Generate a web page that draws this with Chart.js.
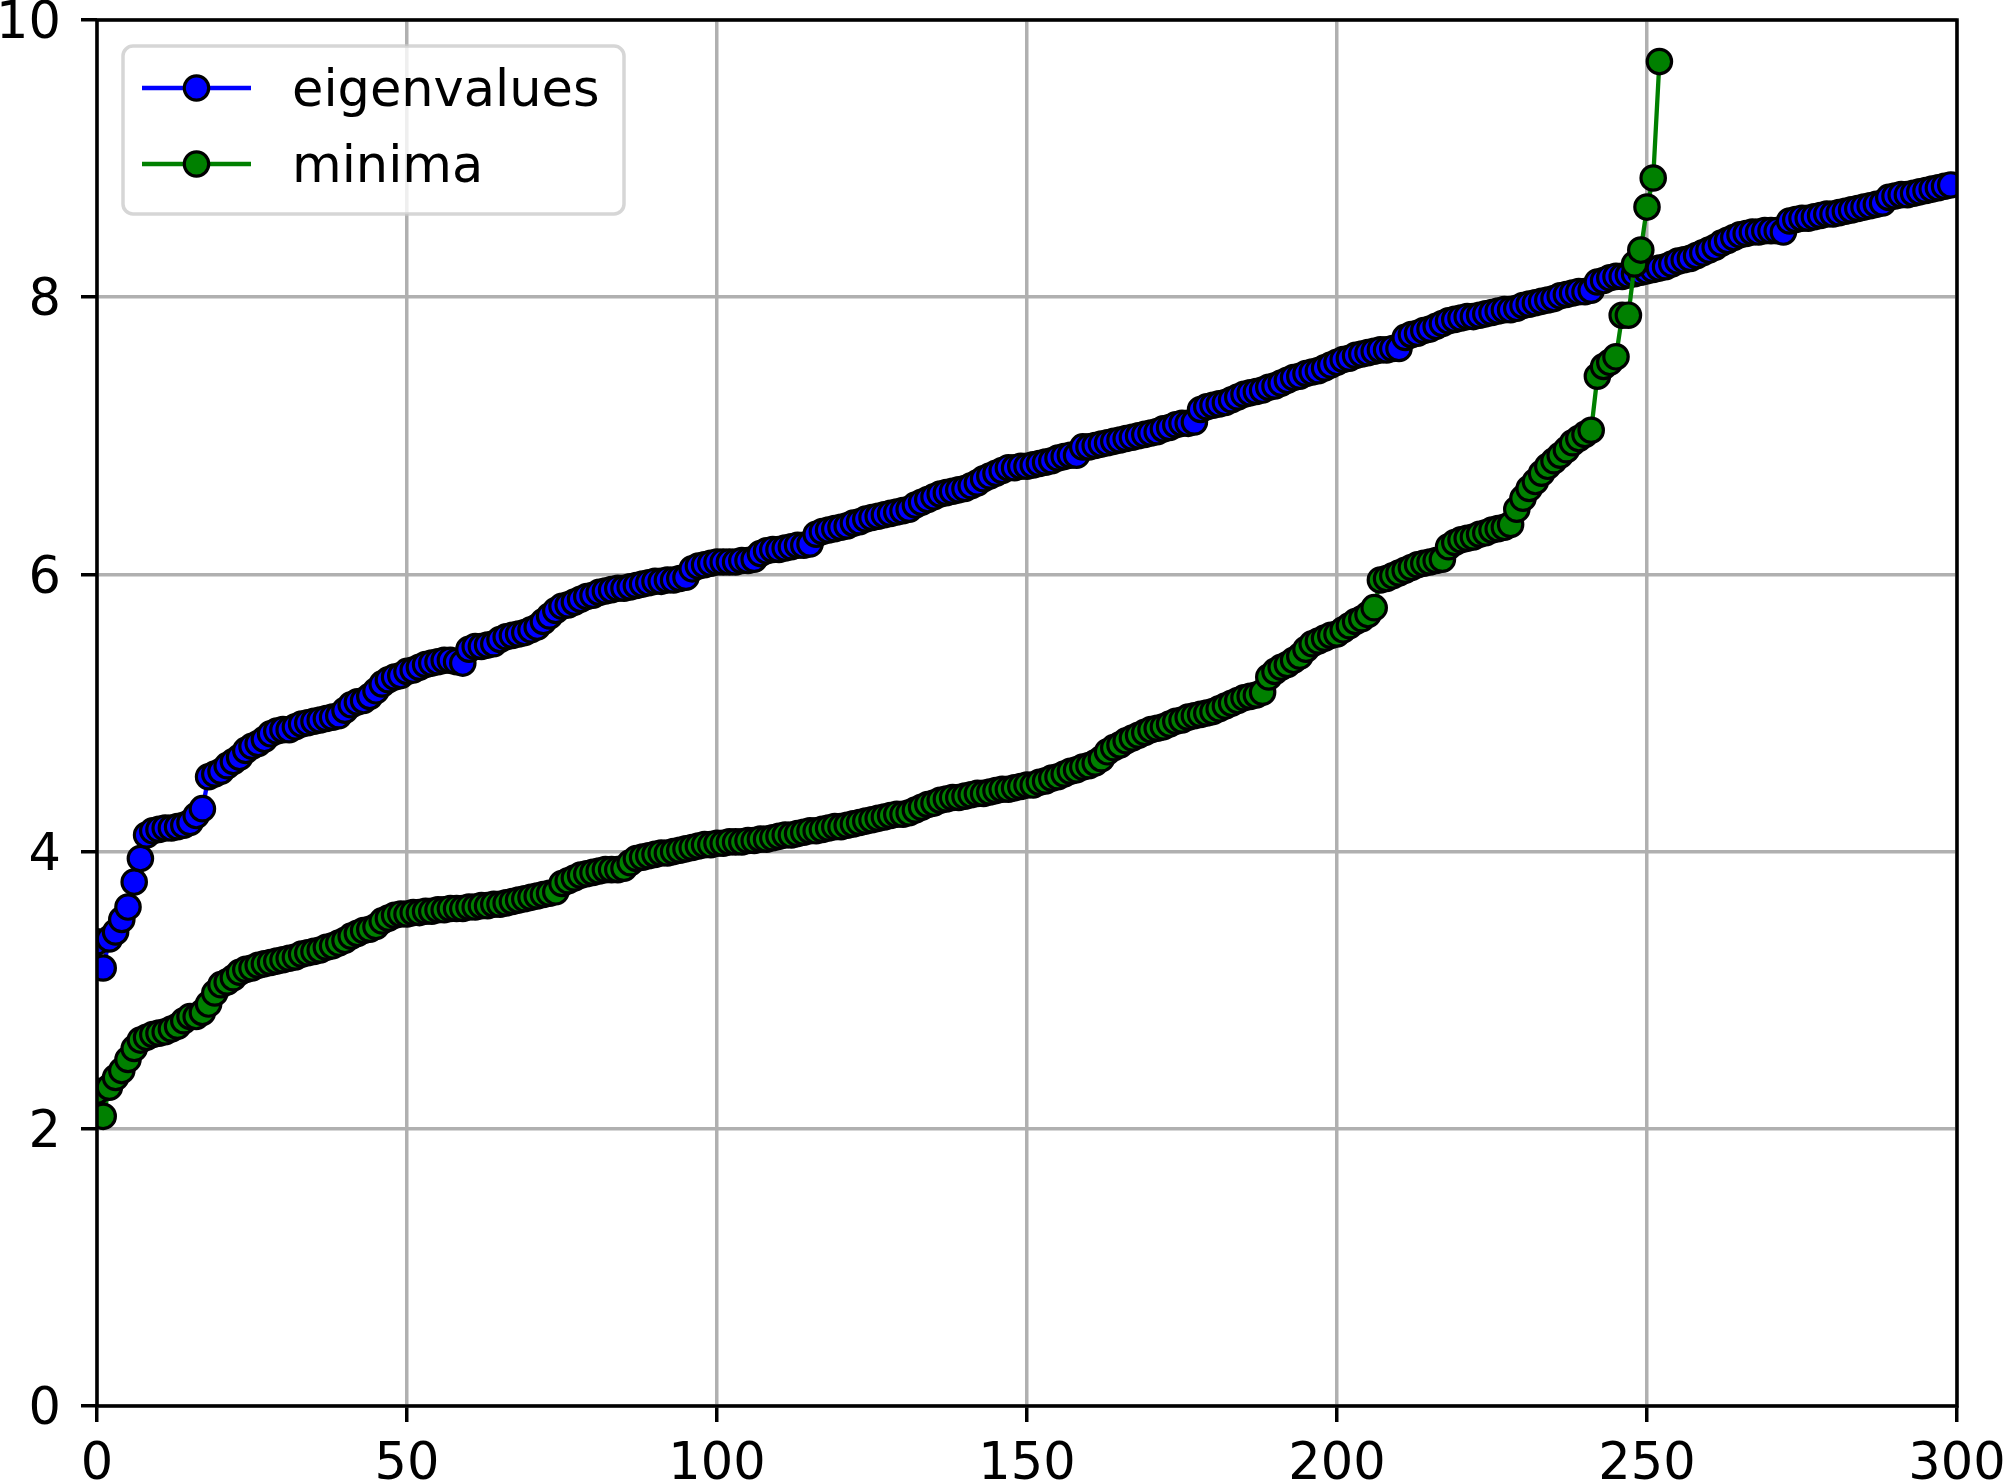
<!DOCTYPE html>
<html><head><meta charset="utf-8">
<script src="https://cdn.jsdelivr.net/npm/chart.js@4.4.0/dist/chart.umd.min.js"></script>
<style>html,body{margin:0;padding:0;background:#fff}canvas{display:block}</style>
</head><body>
<canvas id="c" width="2003" height="1482"></canvas>
<script>
const seriesLabels = ['eigenvalues', 'minima'];
const seriesColors = ['#0000ff', '#008000'];
const xTicks = [0, 50, 100, 150, 200, 250, 300];
const yTicks = [0, 2, 4, 6, 8, 10];

const eigenvalues = [
3.35,3.16,3.37,3.42,3.51,3.60,3.78,3.95,4.12,4.15,
4.16,4.17,4.17,4.18,4.19,4.21,4.26,4.31,4.54,4.56,
4.58,4.62,4.65,4.68,4.73,4.76,4.78,4.81,4.85,4.87,
4.88,4.88,4.90,4.92,4.93,4.94,4.95,4.96,4.97,4.98,
5.02,5.06,5.08,5.09,5.12,5.16,5.21,5.24,5.26,5.27,
5.30,5.31,5.33,5.35,5.36,5.37,5.38,5.38,5.37,5.36,
5.46,5.48,5.48,5.49,5.50,5.53,5.55,5.56,5.57,5.58,
5.60,5.62,5.66,5.70,5.74,5.77,5.78,5.80,5.82,5.84,
5.85,5.87,5.88,5.89,5.90,5.90,5.91,5.92,5.93,5.94,
5.95,5.95,5.96,5.96,5.97,5.98,6.04,6.06,6.07,6.08,
6.09,6.09,6.09,6.09,6.10,6.10,6.11,6.15,6.17,6.18,
6.18,6.19,6.20,6.21,6.21,6.22,6.29,6.31,6.32,6.33,
6.34,6.35,6.37,6.38,6.40,6.41,6.42,6.43,6.44,6.45,
6.46,6.47,6.50,6.52,6.54,6.56,6.58,6.59,6.60,6.61,
6.62,6.64,6.66,6.69,6.71,6.73,6.75,6.77,6.77,6.78,
6.78,6.79,6.80,6.81,6.82,6.84,6.85,6.86,6.86,6.92,
6.92,6.93,6.94,6.95,6.96,6.97,6.98,6.99,7.00,7.01,
7.02,7.03,7.05,7.06,7.08,7.09,7.09,7.10,7.19,7.21,
7.22,7.23,7.24,7.26,7.28,7.30,7.31,7.32,7.33,7.35,
7.36,7.38,7.40,7.42,7.43,7.45,7.46,7.47,7.49,7.51,
7.53,7.55,7.56,7.58,7.59,7.60,7.61,7.62,7.62,7.63,
7.63,7.71,7.73,7.74,7.76,7.77,7.79,7.81,7.83,7.84,
7.85,7.86,7.86,7.87,7.88,7.89,7.90,7.91,7.91,7.92,
7.94,7.95,7.96,7.97,7.98,7.99,8.01,8.02,8.03,8.04,
8.04,8.05,8.11,8.12,8.14,8.15,8.15,8.16,8.17,8.18,
8.19,8.20,8.21,8.22,8.24,8.26,8.27,8.28,8.30,8.32,
8.34,8.36,8.39,8.41,8.43,8.45,8.46,8.47,8.47,8.48,
8.48,8.48,8.47,8.55,8.56,8.57,8.57,8.58,8.59,8.60,
8.60,8.61,8.62,8.63,8.64,8.65,8.66,8.67,8.68,8.72,
8.73,8.74,8.74,8.75,8.76,8.77,8.78,8.79,8.80,8.81
];

const minima = [
2.27,2.09,2.30,2.37,2.42,2.50,2.58,2.64,2.66,2.68,
2.69,2.70,2.72,2.74,2.78,2.81,2.81,2.84,2.90,2.98,
3.04,3.06,3.09,3.13,3.15,3.16,3.18,3.19,3.20,3.21,
3.22,3.23,3.24,3.26,3.27,3.28,3.29,3.31,3.32,3.34,
3.36,3.39,3.41,3.43,3.44,3.46,3.50,3.52,3.54,3.55,
3.55,3.56,3.56,3.57,3.57,3.58,3.58,3.59,3.59,3.59,
3.60,3.60,3.61,3.61,3.62,3.62,3.63,3.64,3.65,3.66,
3.67,3.68,3.69,3.70,3.71,3.77,3.79,3.81,3.83,3.84,
3.85,3.86,3.87,3.87,3.87,3.88,3.92,3.95,3.96,3.97,
3.98,3.99,3.99,4.00,4.01,4.02,4.03,4.04,4.05,4.05,
4.06,4.06,4.07,4.07,4.07,4.08,4.08,4.09,4.09,4.10,
4.11,4.12,4.12,4.13,4.14,4.15,4.15,4.16,4.17,4.18,
4.18,4.19,4.20,4.21,4.22,4.23,4.24,4.25,4.26,4.27,
4.27,4.28,4.30,4.32,4.34,4.35,4.37,4.38,4.39,4.39,
4.40,4.41,4.42,4.42,4.43,4.44,4.45,4.45,4.46,4.47,
4.48,4.48,4.50,4.51,4.53,4.54,4.56,4.58,4.59,4.61,
4.62,4.64,4.67,4.72,4.75,4.77,4.80,4.82,4.84,4.86,
4.88,4.89,4.90,4.92,4.94,4.95,4.97,4.98,4.99,5.00,
5.01,5.03,5.05,5.07,5.09,5.11,5.12,5.13,5.15,5.26,
5.30,5.33,5.35,5.38,5.41,5.46,5.50,5.52,5.54,5.56,
5.57,5.60,5.63,5.66,5.68,5.71,5.76,5.96,5.97,5.99,
6.01,6.03,6.05,6.07,6.08,6.09,6.10,6.11,6.20,6.23,
6.25,6.26,6.27,6.29,6.30,6.32,6.33,6.34,6.36,6.47,
6.55,6.62,6.67,6.73,6.78,6.82,6.86,6.90,6.95,6.98,
7.01,7.04,7.43,7.50,7.53,7.57,7.87,7.87,8.24,8.34,
8.65,8.86,9.70
];

const seriesValues = [eigenvalues, minima];

const FONT = '"DejaVu Sans", sans-serif';
const FONT_SIZE = 51;
const LINE_W = 4.3;
const PT_R = 12.2;
const PT_BW = 3.2;

const frame = {
  id: 'frame',
  afterDatasetsDraw(chart) {
    const {ctx, chartArea: a} = chart;
    ctx.save();
    ctx.strokeStyle = '#000';
    ctx.lineWidth = 3.5;
    ctx.lineCap = 'square';
    ctx.strokeRect(a.left, a.top, a.right - a.left, a.bottom - a.top);
    ctx.restore();
  }
};

const mplLegend = {
  id: 'mplLegend',
  afterDraw(chart) {
    const {ctx, chartArea: a} = chart;
    const bx = a.left + 26, by = a.top + 26, bw = 501, bh = 168;
    ctx.save();
    ctx.beginPath();
    ctx.roundRect(bx, by, bw, bh, 10);
    ctx.fillStyle = 'rgba(255,255,255,0.8)';
    ctx.fill();
    ctx.lineWidth = 3.5;
    ctx.strokeStyle = 'rgba(204,204,204,0.8)';
    ctx.stroke();
    seriesLabels.forEach((lab, i) => {
      const cy = by + 42 + i * 76;
      ctx.beginPath();
      ctx.moveTo(bx + 19, cy);
      ctx.lineTo(bx + 128, cy);
      ctx.strokeStyle = seriesColors[i];
      ctx.lineWidth = LINE_W;
      ctx.stroke();
      ctx.beginPath();
      ctx.arc(bx + 73.5, cy, PT_R, 0, Math.PI * 2);
      ctx.fillStyle = seriesColors[i];
      ctx.fill();
      ctx.lineWidth = PT_BW;
      ctx.strokeStyle = '#000';
      ctx.stroke();
      ctx.fillStyle = '#000';
      ctx.font = FONT_SIZE + 'px ' + FONT;
      ctx.textBaseline = 'alphabetic';
      ctx.textAlign = 'left';
      ctx.fillText(lab, bx + 169, cy + 18);
    });
    ctx.restore();
  }
};

const datasets = seriesValues.map((vals, i) => ({
  label: seriesLabels[i],
  data: vals.map((v, k) => ({x: k, y: v})),
  borderColor: seriesColors[i],
  backgroundColor: seriesColors[i],
  borderWidth: LINE_W,
  pointRadius: PT_R,
  pointHoverRadius: PT_R,
  pointBackgroundColor: seriesColors[i],
  pointBorderColor: '#000',
  pointBorderWidth: PT_BW,
  tension: 0,
  fill: false,
  clip: 0,
  order: seriesLabels.length - i
}));

new Chart(document.getElementById('c'), {
  type: 'line',
  data: {datasets},
  plugins: [frame, mplLegend],
  options: {
    responsive: false,
    animation: false,
    devicePixelRatio: 1,
    layout: {padding: 0},
    plugins: {legend: {display: false}, tooltip: {enabled: false}},
    scales: {
      x: {
        type: 'linear',
        min: 0, max: 300,
        afterBuildTicks: s => { s.ticks = xTicks.map(v => ({value: v})); },
        afterFit: s => { s.height = 76; s.paddingLeft = 0; s.paddingRight = 46; s.paddingTop = 0; s.paddingBottom = 0; },
        grid: {color: '#b0b0b0', lineWidth: 3.5, tickLength: 16, tickColor: '#000', tickWidth: 3.5, drawOnChartArea: true},
        border: {display: false},
        ticks: {color: '#000', font: {family: FONT, size: FONT_SIZE}, padding: 13, maxRotation: 0, autoSkip: false}
      },
      y: {
        type: 'linear',
        min: 0, max: 10,
        afterBuildTicks: s => { s.ticks = yTicks.map(v => ({value: v})); },
        afterFit: s => { s.width = 97; s.paddingTop = 20; s.paddingBottom = 0; },
        grid: {color: '#b0b0b0', lineWidth: 3.5, tickLength: 16, tickColor: '#000', tickWidth: 3.5},
        border: {display: false},
        ticks: {color: '#000', font: {family: FONT, size: FONT_SIZE}, padding: 20, labelOffset: 5, autoSkip: false}
      }
    }
  }
});
</script>
</body></html>
